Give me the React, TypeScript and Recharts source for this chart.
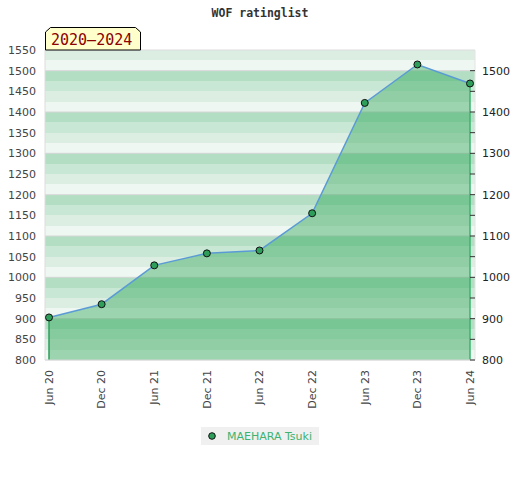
import React from 'react';
import {
  ComposedChart,
  Area,
  Line,
  XAxis,
  YAxis,
  CartesianGrid,
  ReferenceLine,
  Legend,
} from 'recharts';

const months = ['Jun 20', 'Dec 20', 'Jun 21', 'Dec 21', 'Jun 22', 'Dec 22', 'Jun 23', 'Dec 23', 'Jun 24'];
const ratings = [903, 935, 1029, 1058, 1065, 1155, 1422, 1515, 1469];
const leftTicks = [800, 850, 900, 950, 1000, 1050, 1100, 1150, 1200, 1250, 1300, 1350, 1400, 1450, 1500, 1550];
const rightTicks = [800, 850, 900, 950, 1000, 1050, 1100, 1150, 1200, 1250, 1300, 1350, 1400, 1450, 1500];
const majorLines = [800, 900, 1000, 1100, 1200, 1300, 1400, 1500];
const stripeValues: number[] = [];
for (let v = 800; v <= 1550; v += 25) stripeValues.push(v);
const stripeColors = ['#dcede2', '#eef7f1', '#b3dec4', '#c9e7d5'];
const playerName = 'MAEHARA Tsuki';
const periodLabel = '2020–2024';
const title = 'WOF ratinglist';

const data = months.map((m, i) => ({ month: m, rating: ratings[i] }));

const FONT = '"DejaVu Sans", sans-serif';
const MONO = '"DejaVu Sans Mono", monospace';

const XTick = (props: any) => {
  const { x, y, payload } = props;
  return (
    <text
      x={x}
      y={y}
      transform={`rotate(-90, ${x}, ${y})`}
      textAnchor="end"
      dy="0.35em"
      fontFamily={FONT}
      fontSize={11}
      fill="#444"
    >
      {payload.value}
    </text>
  );
};

const RightTick = (props: any) => {
  const { x, y, payload } = props;
  const major = payload.value % 100 === 0;
  return (
    <g>
      <line x1={x - 12} x2={x - 7} y1={y} y2={y} stroke="#333" strokeWidth={1} />
      {major && (
        <text x={x} y={y} dy="0.355em" textAnchor="start" fontFamily={FONT} fontSize={11} fill="#222">
          {payload.value}
        </text>
      )}
    </g>
  );
};

const LegendContent = (props: any) => {
  const items = (props.payload || []).filter((p: any) => p.type !== 'none');
  return (
    <div style={{ display: 'flex', justifyContent: 'center' }}>
      {items.map((p: any) => (
        <div
          key={p.value}
          style={{
            background: '#f0f0f0',
            height: 18,
            display: 'flex',
            alignItems: 'center',
            padding: '0 7px',
            fontFamily: FONT,
            fontSize: 11,
            color: '#3cb371',
          }}
        >
          <svg width={8} height={8} style={{ display: 'block' }}>
            <circle cx={4} cy={4} r={3.3} fill="#2e9e5b" stroke="#111" strokeWidth={1} />
          </svg>
          <span style={{ marginLeft: 11 }}>{p.value}</span>
        </div>
      ))}
    </div>
  );
};

export default function App() {
  return (
    <div style={{ position: 'absolute', left: 0, top: 0, width: 520, height: 480, background: '#fff' }}>
      <ComposedChart
        width={520}
        height={480}
        data={data}
        margin={{ top: 50, right: 0, bottom: 35, left: 0 }}
      >
        <CartesianGrid
          yAxisId="left"
          vertical={false}
          horizontalValues={stripeValues}
          horizontalFill={stripeColors}
          stroke="none"
        />
        <CartesianGrid
          yAxisId="left"
          vertical={false}
          horizontalValues={majorLines}
          stroke="#d6d6d6"
          strokeWidth={1}
        />
        <XAxis
          dataKey="month"
          type="category"
          padding={{ left: 4, right: 5 }}
          height={67}
          tick={<XTick />}
          tickLine={false}
          tickSize={0}
          tickMargin={10}
          axisLine={{ stroke: '#dddddd' }}
          interval={0}
        />
        <YAxis
          yAxisId="left"
          orientation="left"
          width={45}
          domain={[800, 1550]}
          ticks={leftTicks}
          type="number"
          allowDataOverflow
          tickLine={false}
          tickSize={0}
          tickMargin={9}
          axisLine={{ stroke: '#dddddd' }}
          tick={{ fontFamily: FONT, fontSize: 11, fill: '#444' }}
          interval={0}
        />
        <YAxis
          yAxisId="right"
          orientation="right"
          width={45}
          domain={[800, 1550]}
          ticks={rightTicks}
          type="number"
          allowDataOverflow
          tickLine={false}
          tickSize={0}
          tickMargin={7}
          axisLine={{ stroke: '#e4e4e4' }}
          tick={<RightTick />}
          interval={0}
        />
        <ReferenceLine yAxisId="left" y={1550} stroke="#dddddd" />
        <Area
          yAxisId="left"
          type="linear"
          dataKey="rating"
          fill="#28a453"
          fillOpacity={0.42}
          stroke="none"
          legendType="none"
          dot={false}
          activeDot={false}
          isAnimationActive={false}
        />
        <ReferenceLine
          yAxisId="left"
          segment={[
            { x: months[0], y: 800 },
            { x: months[0], y: ratings[0] },
          ]}
          stroke="#2e9e5b"
          strokeWidth={1.5}
        />
        <ReferenceLine
          yAxisId="left"
          segment={[
            { x: months[months.length - 1], y: 800 },
            { x: months[months.length - 1], y: ratings[ratings.length - 1] },
          ]}
          stroke="#3cb371"
          strokeWidth={1.5}
        />
        <Line
          yAxisId="left"
          type="linear"
          dataKey="rating"
          name={playerName}
          stroke="#5b9bd5"
          strokeWidth={1.5}
          dot={{ r: 3.5, fill: '#2e9e5b', stroke: '#111', strokeWidth: 1, fillOpacity: 1 }}
          activeDot={false}
          isAnimationActive={false}
        />
        <Legend verticalAlign="bottom" align="center" content={<LegendContent />} />
      </ComposedChart>
      <svg
        width={520}
        height={52}
        style={{ position: 'absolute', left: 0, top: 0, pointerEvents: 'none' }}
      >
        <text x={260} y={17} textAnchor="middle" fontFamily={MONO} fontWeight="bold" fontSize={11.5} fill="#333">
          {title}
        </text>
        <polygon
          points="45.5,50 45.5,32 50.5,27.5 135.5,27.5 140.5,32 140.5,50"
          fill="#ffffcc"
          stroke="#000"
          strokeWidth={1}
        />
        <text x={51} y={45} fontFamily={MONO} fontSize={15} fill="#8b0000">
          {periodLabel}
        </text>
      </svg>
    </div>
  );
}
